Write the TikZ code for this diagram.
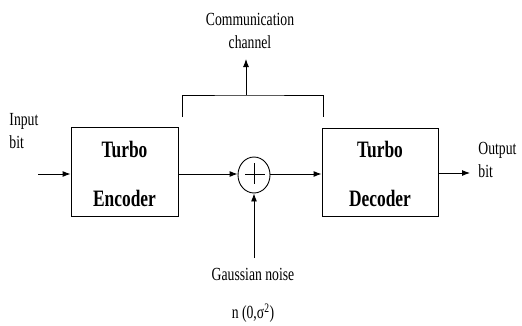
\documentclass[tikz,border=0pt]{standalone}
\usepackage{fontspec}
\setmainfont{Liberation Serif}[FakeStretch=0.74]
\usetikzlibrary{arrows.meta,shapes.geometric}
\begin{document}
\begin{tikzpicture}[x=1pt,y=-1pt,
  line width=0.9pt,
  blockbox/.style={draw, minimum width=107pt, minimum height=89pt, inner sep=0pt},
  lbl/.style={font=\fontsize{18.5}{23}\selectfont, inner sep=0pt, align=center},
  bold/.style={font=\fontsize{23.5}{28}\selectfont\bfseries, inner sep=0pt},
  arr/.style={-{Latex[length=8pt,width=6pt]}}]
\useasboundingbox (0,0) rectangle (522,325);
\node[blockbox] (enc) at (124.5,171.5) {};
\node[blockbox, minimum width=116pt, minimum height=88pt] (dec) at (380,172) {};
\node[bold] (t1) at (124.5,149) {Turbo};
\node[bold] (e1) at (124.5,198) {Encoder};
\node[bold] (t2) at (380,149) {Turbo};
\node[bold] (d2) at (380,198) {Decoder};
\node[draw, ellipse, minimum width=32pt, minimum height=36pt, inner sep=0pt] (sum) at (254,175) {};
\coordinate (pl) at (245,174);
\coordinate (pr) at (265,174);
\coordinate (pt) at (254,163);
\coordinate (pb) at (254,184);
\draw (pt) -- (pb) (pl) -- (pr);
\node[lbl, align=left, anchor=west] (in) at (9,131) {Input\\bit};
\node[lbl, align=left, anchor=west] (out) at (478,160) {Output\\bit};
\node[lbl] (ch) at (250,31) {Communication\\channel};
\node[lbl] (gn) at (253,274) {Gaussian noise};
\node[lbl] (nz) at (253,313) {n (0,σ\textsuperscript{2})};
\coordinate (inS) at (38,174);
\coordinate (outE) at (470,173);
\coordinate (nS) at (254,258);
\coordinate (bl) at (182,117);
\coordinate (br) at (323,117);
\coordinate (bm) at (246,95);
\coordinate (chT) at (246,59);
\coordinate (mid) at (0,174);
\draw[arr] (inS) -- (enc.west |- inS);
\draw[arr] (enc.east |- mid) -- (sum.west |- mid);
\draw[arr] (sum.east |- mid) -- (dec.west |- mid);
\draw[arr] (dec.east |- outE) -- (outE);
\draw[arr] (nS) -- (sum.south);
\draw (bl) |- (bm) -| (br);
\draw[arr] (bm) -- (chT);
\end{tikzpicture}
\end{document}
